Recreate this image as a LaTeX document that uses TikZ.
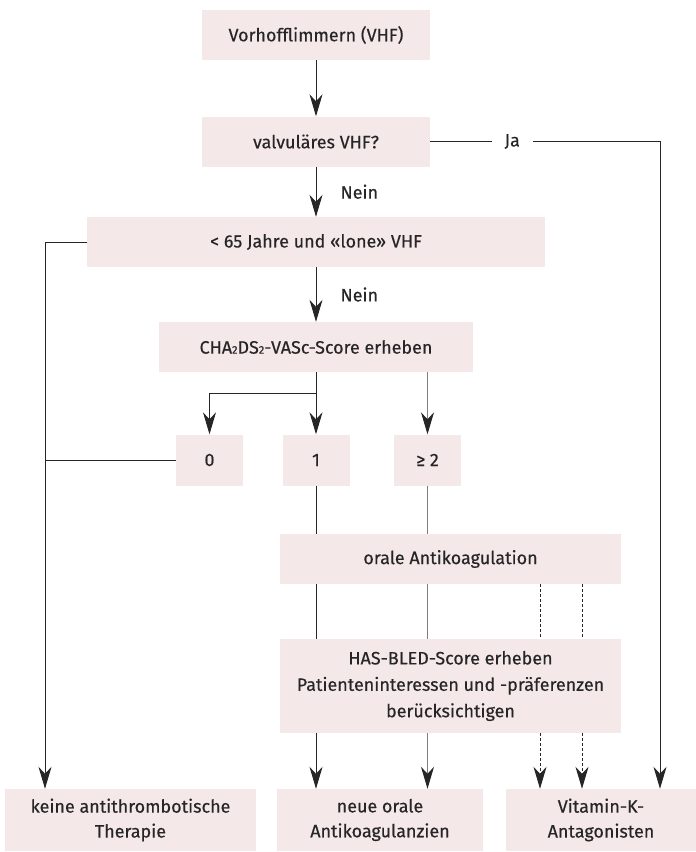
\documentclass[tikz,border=0pt]{standalone}
\usepackage{fontspec}
\setmainfont{Fira Sans}[FakeBold=0.35]
\usetikzlibrary{arrows.meta}
\definecolor{vhfrose}{RGB}{245,232,233}
\definecolor{vhfink}{RGB}{38,38,38}
\definecolor{vhfgrey}{RGB}{125,125,125}

\begin{document}
\begin{tikzpicture}[x=1bp,y=-1bp,
  font=\fontsize{18}{25}\selectfont,
  box/.style={fill=vhfrose,text=vhfink,align=center,inner sep=0pt,minimum height=50bp},
  lab/.style={text=vhfink,inner sep=0pt},
  link/.style={draw=vhfink,line width=1bp},
  go/.style={link,-{Stealth[length=22bp,width=13bp,inset=7bp,color=vhfink]}},
  maybe/.style={dash pattern=on 3bp off 2bp}]
\useasboundingbox (0,0) rectangle (696,852);

% ================= QUESTIONS =================
\node[box,minimum width=228bp] (vhf) at (316,35) {Vorhofflimmern (VHF)};
\node[box,minimum width=228bp] (valv) at (316,141.5) {valvuläres VHF?};
\node[box,minimum width=457bp] (lone) at (316,242) {< 65 Jahre und «lone» VHF};
\node[box,minimum width=314bp] (cha) at (316,347) {CHA{\fontsize{11}{11}\selectfont 2}DS{\fontsize{11}{11}\selectfont 2}-VASc-Score erheben};

% ================= SCORE =================
\node[box,minimum width=67bp,minimum height=51bp] (s0) at (209.5,460) {0};
\node[box,minimum width=67bp,minimum height=51bp] (s1) at (316,460) {1};
\node[box,minimum width=67bp,minimum height=51bp] (s2) at (427.5,460) {≥ 2};
\node[box,minimum width=341bp] (oak) at (450.5,559) {orale Antikoagulation};
\node[box,minimum width=341bp,minimum height=94bp] (has) at (450.5,686)
   {HAS-BLED-Score erheben\\[1.5bp]Patienteninteressen und -präferenzen\\[1.5bp]berücksichtigen};

% ================= THERAPY =================
\node[box,minimum width=251bp,minimum height=62bp] (keine) at (130.5,820) {keine antithrombotische\\Therapie};
\node[box,minimum width=206bp,minimum height=62bp] (noak) at (380,820) {neue orale\\Antikoagulanzien};
\node[box,minimum width=190bp,minimum height=62bp] (vka) at (601,820) {Vitamin-K-\\Antagonisten};

\coordinate (jaturn) at (660,141.5);
\coordinate (lonecorner) at (45,242);
\coordinate (split) at (316,393);
\coordinate (vk1) at (540,0);
\coordinate (vk2) at (582,0);

% ================= CONNECTORS =================
\draw[go] (vhf) -- (valv);
\draw[go] (valv) -- node[lab,anchor=west,xshift=24bp]{Nein} (lone);
\draw[go] (valv) -- node[lab,pos=0.357,fill=white,inner xsep=13bp]{Ja} (jaturn) -- (jaturn |- vka.north);
\draw[go] (lone) -- node[lab,anchor=west,xshift=24bp]{Nein} (cha);
\draw[go] (lone.west) -- (lonecorner) -- (lonecorner |- keine.north);
\draw[link] (s0.west) -- (s0.west -| lonecorner);

\draw[go] (cha.south -| s1) -- (s1);
\draw[go] (split) -| (s0);
\draw[go,draw=vhfgrey] (cha.south -| s2) -- (s2);

\draw[link] (s1) -- (s1 |- oak.north);
\draw[link] (s1 |- oak.south) -- (s1 |- has.north);
\draw[go] (s1 |- has.south) -- (s1 |- noak.north);
\draw[link,draw=vhfgrey] (s2) -- (s2 |- oak.north);
\draw[link,draw=vhfgrey] (s2 |- oak.south) -- (s2 |- has.north);
\draw[go,draw=vhfgrey] (s2 |- has.south) -- (s2 |- noak.north);

\draw[link,maybe] (oak.south -| vk1) -- (has.north -| vk1);
\draw[link,maybe] (oak.south -| vk2) -- (has.north -| vk2);
\draw[go,maybe] (has.south -| vk1) -- (vka.north -| vk1);
\draw[go,maybe] (has.south -| vk2) -- (vka.north -| vk2);
\end{tikzpicture}
\end{document}
